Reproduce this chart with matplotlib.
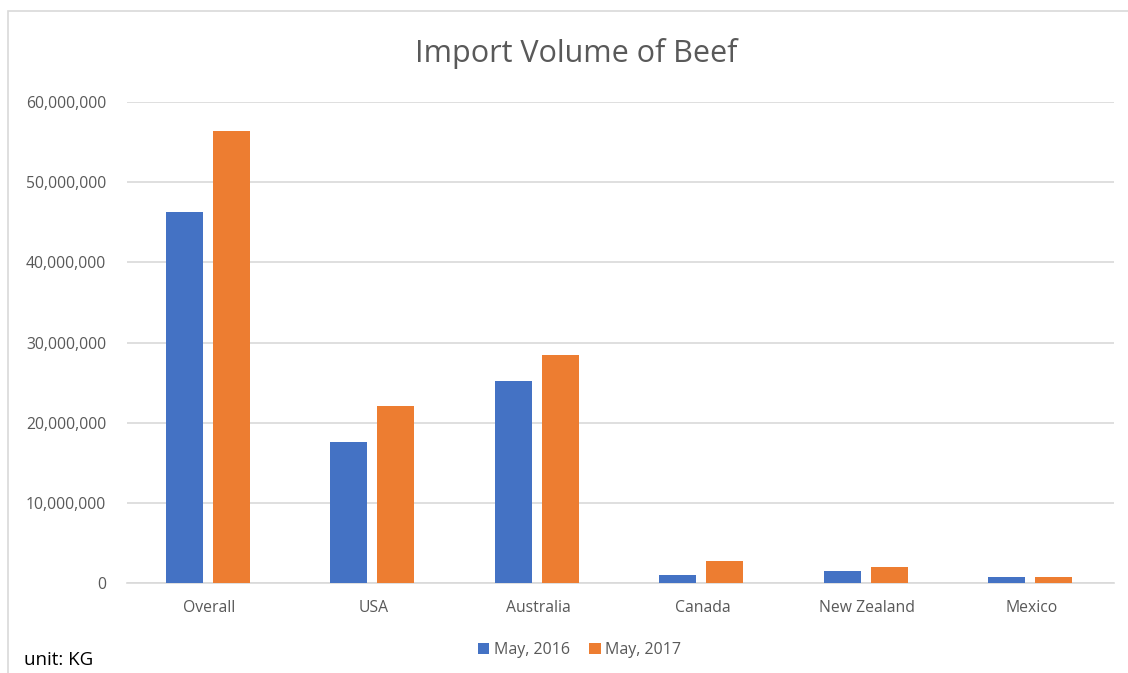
import numpy as np
import matplotlib
matplotlib.use('Agg')
import matplotlib.pyplot as plt
from matplotlib.patches import Rectangle
from matplotlib.ticker import FuncFormatter

categories = ['Overall', 'USA', 'Australia', 'Canada', 'New Zealand', 'Mexico']
may_2016 = [46.3e6, 17.6e6, 25.2e6, 1.0e6, 1.5e6, 0.75e6]
may_2017 = [56.4e6, 22.1e6, 28.4e6, 2.7e6, 2.0e6, 0.7e6]
series_labels = ['May, 2016', 'May, 2017']

plt.rcParams['font.family'] = ['Open Sans', 'DejaVu Sans']
grey = '#595959'

fig = plt.figure(figsize=(11.28, 6.73), dpi=100)
ax = fig.add_axes([0.1126, 0.1337, 0.875, 0.7147])

x = np.arange(len(categories))
w = 0.225
gap = 0.06
ax.bar(x - (w + gap) / 2 - 0.01, may_2016, w, color='#4472c4', label=series_labels[0], zorder=3)
ax.bar(x + (w + gap) / 2 - 0.01, may_2017, w, color='#ed7d31', label=series_labels[1], zorder=3)

ax.set_xlim(-0.5, len(categories) - 0.5)
ax.set_ylim(0, 60e6)
ax.set_yticks(np.arange(0, 60e6 + 1, 10e6))
ax.yaxis.set_major_formatter(FuncFormatter(lambda v, p: f'{int(v):,}'))
ax.set_xticks(x)
ax.set_xticklabels(categories)
ax.tick_params(axis='both', length=0, labelsize=11.3, colors=grey)
ax.tick_params(axis='x', pad=12)
ax.tick_params(axis='y', pad=15)
ax.grid(axis='y', color='#d9d9d9', linewidth=1.2, zorder=0)
for s in ['top', 'right', 'left']:
    ax.spines[s].set_visible(False)
ax.spines['bottom'].set_color('#d9d9d9')
ax.spines['bottom'].set_linewidth(1.2)

fig.text(0.511, 0.921, 'Import Volume of Beef', ha='center', va='center',
         fontsize=22, color=grey)

fig.legend(loc='center', bbox_to_anchor=(0.514, 0.034), ncol=2, frameon=False,
           fontsize=11.5, labelcolor=grey, handlelength=0.7, handleheight=0.7,
           handletextpad=0.3, columnspacing=1.2)

fig.text(0.021, 0.02, 'unit: KG', ha='left', va='center', fontsize=13.5, color='black')

# chart frame
fig.patches.append(Rectangle((0.007, -0.01), 1.0, 0.993, transform=fig.transFigure,
                             fill=False, edgecolor='#d9d9d9', linewidth=1.2))

fig.savefig('out.png', dpi=100)
